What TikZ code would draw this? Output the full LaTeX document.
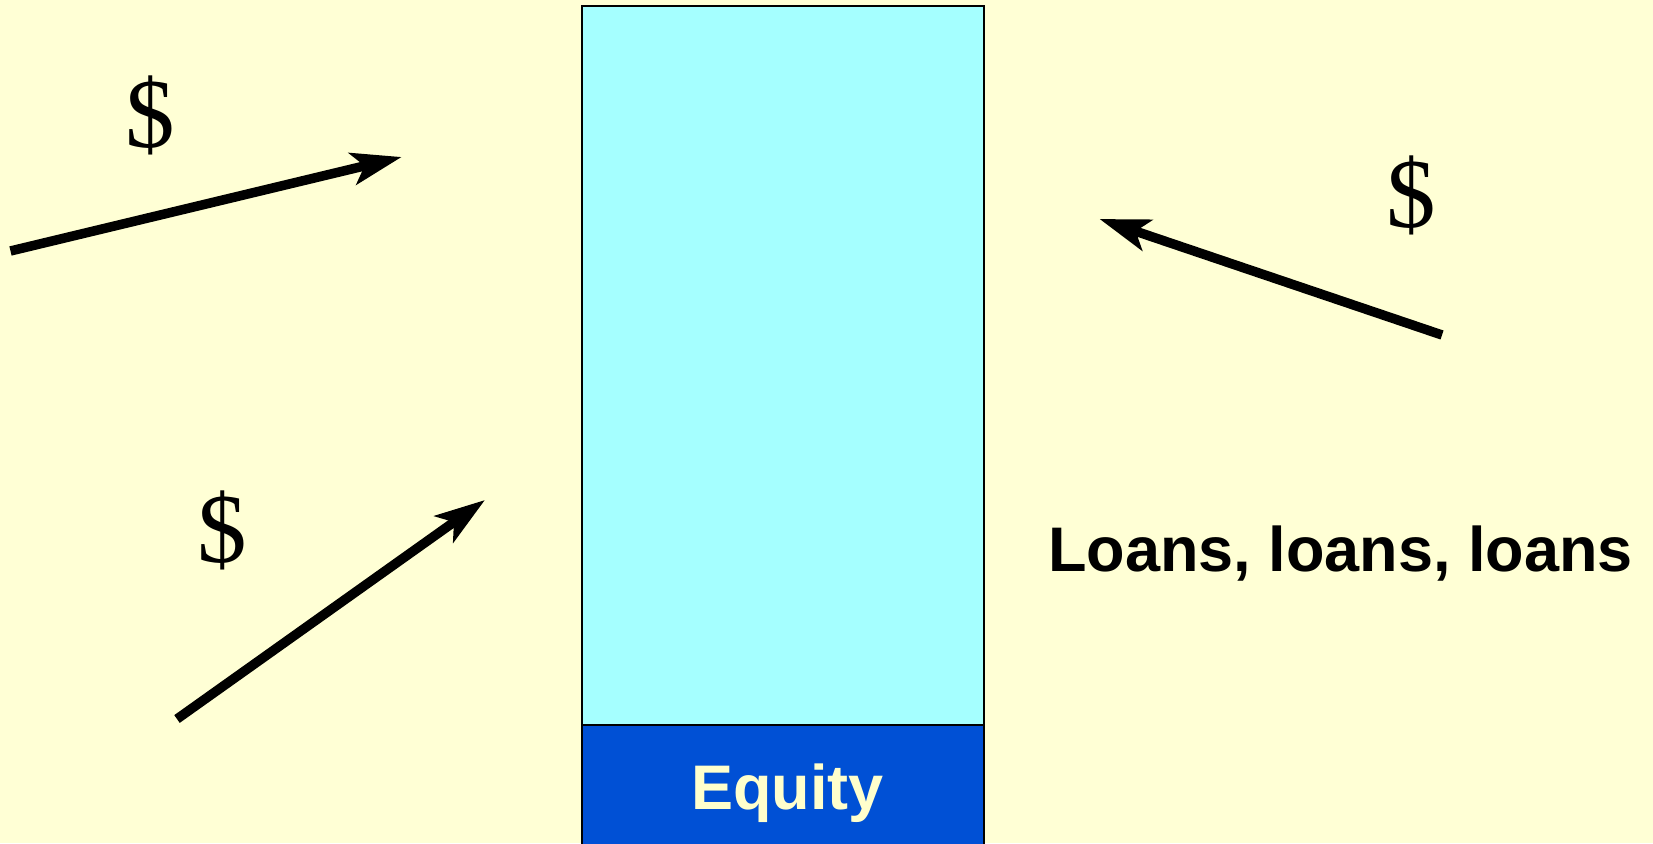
\documentclass[tikz,border=0pt]{standalone}
\usepackage{fontspec}
\setmainfont{Liberation Sans}
\newfontfamily\dollarfont{Liberation Serif}
\usetikzlibrary{arrows.meta}
\definecolor{bg}{HTML}{FFFFD5}
\definecolor{debt}{HTML}{A5FFFF}
\definecolor{eq}{HTML}{0050D5}
\definecolor{eqtext}{HTML}{FFFFCC}
\tikzset{
  flow/.style={line width=9.5pt,-{Stealth[length=50pt,width=32pt,inset=12pt]}},
  dollar/.style={font=\dollarfont\fontsize{99}{99}\selectfont, inner sep=0pt},
  bigtext/.style={font=\fontsize{63}{66}\selectfont\bfseries, inner sep=0pt}
}
\begin{document}
\begin{tikzpicture}[x=1pt,y=1pt]
\fill[bg] (0,0) rectangle (1653,843);
\useasboundingbox (0,0) rectangle (1653,843);
% balance sheet bar
\draw[fill=debt, line width=2.2pt] (582,118) rectangle (984,837);
\node[draw, line width=2.2pt, fill=eq, minimum width=402pt, minimum height=122pt, inner sep=0pt] (equity) at (783,57) {};
\node[bigtext, text=eqtext] (eqlabel) at (787.5,50) {Equity};
% arrows
\coordinate (a1s) at (10.5,592);
\coordinate (a1e) at (401.7,686);
\coordinate (a2s) at (1442,508);
\coordinate (a2e) at (1099.5,624);
\coordinate (a3s) at (177,124);
\coordinate (a3e) at (485,343);
\draw[flow] (a1s) -- (a1e);
\draw[flow] (a2s) -- (a2e);
\draw[flow] (a3s) -- (a3e);
% labels
\node[dollar] (d1) at (150,728) {\$};
\node[dollar] (d2) at (222,313) {\$};
\node[dollar] (d3) at (1411,648) {\$};
\node[bigtext, text=black] (loans) at (1340.5,289) {Loans, loans, loans};
\end{tikzpicture}
\end{document}
